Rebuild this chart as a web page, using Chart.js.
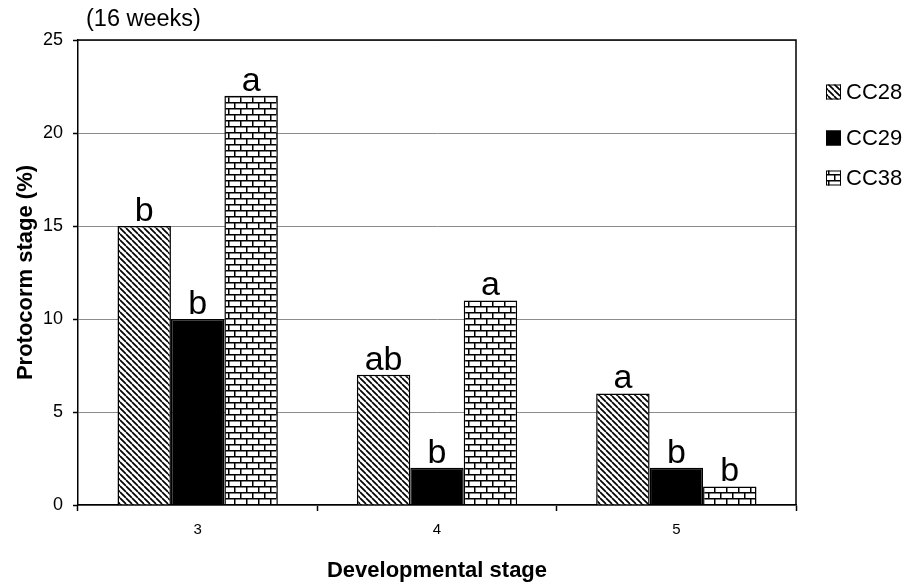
<!DOCTYPE html>
<html><head><meta charset="utf-8">
<script src="https://cdn.jsdelivr.net/npm/chart.js@4.4.1/dist/chart.umd.min.js"></script>
<style>html,body{margin:0;padding:0;background:#fff;}</style>
</head><body>
<canvas id="c" width="904" height="584"></canvas>
<script>
const categories = ['3', '4', '5'];
const seriesNames = ['CC28', 'CC29', 'CC38'];
const cc28 = [15, 7, 6];
const cc29 = [10, 2, 2];
const cc38 = [22, 11, 1];
const cc28Letters = ['b', 'ab', 'a'];
const cc29Letters = ['b', 'b', 'b'];
const cc38Letters = ['a', 'a', 'b'];
const yMin = 0, yMax = 25, yStep = 5;
const titleText = '(16 weeks)';
const xTitle = 'Developmental stage';
const yTitle = 'Protocorm stage (%)';

const FONT = "'Liberation Sans', Arial, sans-serif";

function diagPattern() {
  const s = 6, cv = document.createElement('canvas');
  cv.width = s; cv.height = s;
  const g = cv.getContext('2d');
  g.fillStyle = '#fff'; g.fillRect(0, 0, s, s);
  g.strokeStyle = '#000'; g.lineWidth = 1.7;
  for (let k = -1; k <= 1; k++) {
    g.beginPath(); g.moveTo(k * s, 0); g.lineTo(k * s + s, s); g.stroke();
  }
  return g.createPattern(cv, 'repeat');
}
function brickPattern() {
  const w = 12, h = 12, cv = document.createElement('canvas');
  cv.width = w; cv.height = h;
  const g = cv.getContext('2d');
  g.fillStyle = '#fff'; g.fillRect(0, 0, w, h);
  g.fillStyle = '#000';
  g.fillRect(0, 0, w, 1.5);
  g.fillRect(0, 6, w, 1.5);
  g.fillRect(0, 0, 1.5, 6);
  g.fillRect(6, 6, 1.5, 6);
  return g.createPattern(cv, 'repeat');
}
const fills = [diagPattern(), '#000', brickPattern()];
const letterSets = [cc28Letters, cc29Letters, cc38Letters];

const extras = {
  id: 'extras',
  afterDraw(chart) {
    const {ctx, chartArea: a} = chart;
    ctx.save();
    ctx.strokeStyle = '#000'; ctx.lineWidth = 1.5;
    ctx.beginPath();
    ctx.moveTo(a.left, a.top); ctx.lineTo(a.right, a.top); ctx.lineTo(a.right, a.bottom);
    ctx.stroke();
    ctx.fillStyle = '#000';
    ctx.font = '23.5px ' + FONT;
    ctx.textAlign = 'left'; ctx.textBaseline = 'middle';
    ctx.fillText(titleText, 86, 20);
    ctx.font = '34px ' + FONT;
    ctx.textAlign = 'center'; ctx.textBaseline = 'alphabetic';
    chart.data.datasets.forEach((ds, i) => {
      const meta = chart.getDatasetMeta(i);
      meta.data.forEach((bar, j) => {
        ctx.fillText(letterSets[i][j], bar.x, bar.y - 5);
      });
    });
    const ly = [92, 138, 178];
    chart.data.datasets.forEach((ds, i) => {
      ctx.fillStyle = ds.backgroundColor;
      ctx.fillRect(826, ly[i] - 7.5, 15, 15);
      ctx.strokeStyle = '#000'; ctx.lineWidth = 1;
      ctx.strokeRect(826.5, ly[i] - 7, 14, 14);
      ctx.fillStyle = '#000';
      ctx.font = '22px ' + FONT;
      ctx.textAlign = 'left'; ctx.textBaseline = 'middle';
      ctx.fillText(ds.label, 846, ly[i] + 1);
    });
    ctx.restore();
  }
};

new Chart(document.getElementById('c'), {
  type: 'bar',
  data: {
    labels: categories,
    datasets: [
      {label: seriesNames[0], data: cc28},
      {label: seriesNames[1], data: cc29},
      {label: seriesNames[2], data: cc38}
    ].map((d, i) => Object.assign(d, {
      backgroundColor: fills[i], borderColor: '#000', borderWidth: 1.5,
      categoryPercentage: 0.67, barPercentage: 1.0
    }))
  },
  options: {
    responsive: false, animation: false, devicePixelRatio: 1,
    layout: {padding: {top: 40, right: 108, left: 0, bottom: 0}},
    plugins: {legend: {display: false}, tooltip: {enabled: false}},
    scales: {
      x: {
        afterFit(s) { s.height = 79; },
        grid: {display: true, drawOnChartArea: false, drawTicks: true, tickLength: 6, tickColor: '#000', tickWidth: 1.5, offset: true},
        border: {display: true, color: '#000', width: 1.5},
        ticks: {color: '#000', font: {family: FONT, size: 15}, padding: 10},
        title: {display: true, text: xTitle, color: '#000', font: {family: FONT, size: 22, weight: 'bold'}, padding: {top: 0, bottom: 0}}
      },
      y: {
        min: yMin, max: yMax,
        afterFit(s) { s.width = 78; },
        grid: {color: '#8c8c8c', lineWidth: 1, drawTicks: true, tickLength: 5, tickColor: '#000', tickWidth: 1.5},
        border: {display: true, color: '#000', width: 1.5},
        ticks: {stepSize: yStep, color: '#000', font: {family: FONT, size: 18}, padding: 10},
        title: {display: true, text: yTitle, color: '#000', font: {family: FONT, size: 22, weight: 'bold'}, padding: {top: 13, bottom: 0}}
      }
    }
  },
  plugins: [extras]
});
</script>
</body></html>
